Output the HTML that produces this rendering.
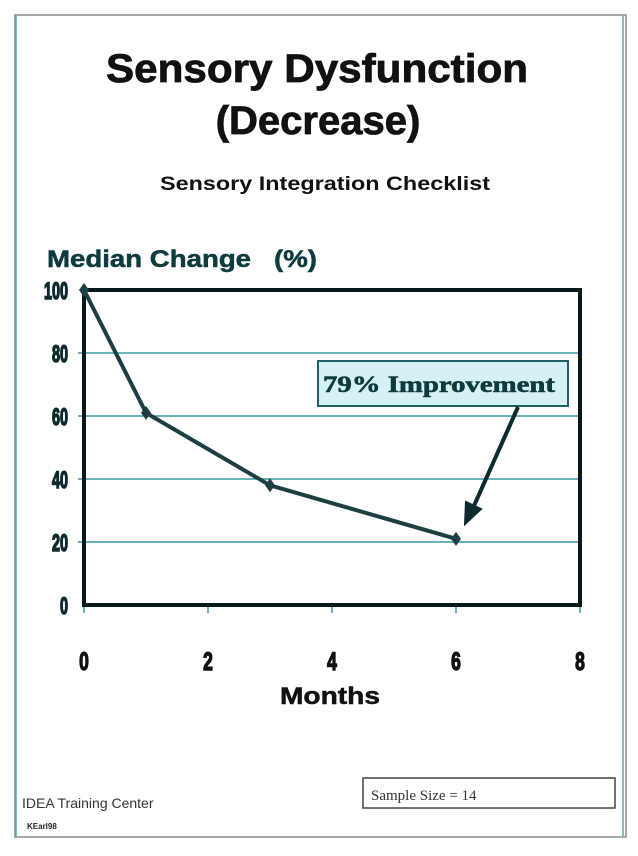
<!DOCTYPE html>
<html><head><meta charset="utf-8"><style>
body{margin:0;background:#fff;width:638px;height:851px;overflow:hidden;font-family:"Liberation Sans",sans-serif}
</style></head><body>
<svg width="638" height="851" viewBox="0 0 638 851" xmlns="http://www.w3.org/2000/svg">
<rect x="15" y="15" width="611" height="822" fill="#fff" stroke="#8a8a8a" stroke-width="1.5"/>
<line x1="16" y1="16" x2="16" y2="836" stroke="#5aa8b0" stroke-width="1.5"/>
<line x1="623" y1="16" x2="623" y2="836" stroke="#5aa8b0" stroke-width="1.5"/>
<text x="317" y="82" text-anchor="middle" font-size="40" font-weight="bold" fill="#111" stroke="#111" stroke-width="0.8" textLength="422" lengthAdjust="spacingAndGlyphs">Sensory Dysfunction</text>
<text x="318" y="134" text-anchor="middle" font-size="40" font-weight="bold" fill="#111" stroke="#111" stroke-width="0.8">(Decrease)</text>
<text x="325" y="190" text-anchor="middle" font-size="19" font-weight="bold" fill="#111" textLength="330" lengthAdjust="spacingAndGlyphs">Sensory Integration Checklist</text>
<text x="47" y="267" font-size="24" font-weight="bold" fill="#0d3b3e" stroke="#0d3b3e" stroke-width="0.5" textLength="270" lengthAdjust="spacingAndGlyphs" xml:space="preserve">Median Change   (%)</text>
<g id="grid"></g>
<g id="axes"></g>
<g id="series"></g>
<rect x="318" y="361" width="250" height="45" fill="#d6f1f3" stroke="#1f5f66" stroke-width="2"/>
<text x="439" y="392" text-anchor="middle" font-family="Liberation Serif, serif" font-size="23" font-weight="bold" fill="#0d3b3e" stroke="#0d3b3e" stroke-width="0.6" textLength="232" lengthAdjust="spacingAndGlyphs">79% Improvement</text>
<line x1="518" y1="407" x2="473" y2="508" stroke="#0d2a2e" stroke-width="4"/>
<polygon points="465,524 466,502 481,509" fill="#0d2a2e" stroke="#0d2a2e" stroke-width="2"/>
<text x="330" y="704" text-anchor="middle" font-size="24" font-weight="bold" fill="#111" stroke="#111" stroke-width="0.5" textLength="100" lengthAdjust="spacingAndGlyphs">Months</text>
<text x="22" y="808" font-size="14" fill="#333">IDEA Training Center</text>
<text x="27" y="829" font-size="8" font-weight="bold" fill="#222">KEarl98</text>
<rect x="363" y="778" width="252" height="30" fill="#fff" stroke="#444" stroke-width="1.5"/>
<text x="371" y="800" font-family="Liberation Serif, serif" font-size="15" fill="#333">Sample Size = 14</text>
</svg>
<script>
const months = [0, 1, 3, 6];
const medianChange = [100, 61, 38, 21];
const yTicks = [0, 20, 40, 60, 80, 100];
const xTicks = [0, 2, 4, 6, 8];
const NS = "http://www.w3.org/2000/svg";
const L = 84, R = 580, T = 290, B = 605;
const xs = v => L + (v - 0) / 8 * (R - L);
const ys = v => B - v / 100 * (B - T);
function mk(tag, attrs, parent, text) {
  const e = document.createElementNS(NS, tag);
  for (const k in attrs) e.setAttribute(k, attrs[k]);
  if (text !== undefined) e.textContent = text;
  document.getElementById(parent).appendChild(e);
  return e;
}
yTicks.forEach(t => {
  if (t > 0 && t < 100) {
    const g = mk("line", {x1: L - 6, x2: R, y1: ys(t), y2: ys(t), stroke: "#3a9aa3", "stroke-width": 1.5}, "grid");
    
    
  }
  const lb = mk("text", {x: 0, y: 0, "text-anchor": "end", "font-size": 24, "font-weight": "bold", fill: "#0d2a2e", stroke: "#0d2a2e", "stroke-width": 1.6, transform: `translate(68 ${ys(t) + 9}) scale(0.6 1)`}, "axes", String(t));
  
  
});
xTicks.forEach(t => {
  const tk = mk("line", {x1: xs(t), x2: xs(t), y1: B, y2: B + 8, stroke: "#3a9aa3", "stroke-width": 1.5}, "axes");
  
  
  const lb = mk("text", {x: 0, y: 0, "text-anchor": "middle", "font-size": 25, "font-weight": "bold", fill: "#111", stroke: "#111", "stroke-width": 1.4, transform: `translate(${xs(t)} 670) scale(0.7 1)`}, "axes", String(t));
  
  
});
const frame = mk("rect", {x: L, y: T, width: R - L, height: B - T, fill: "none", stroke: "#061a1c", "stroke-width": 4}, "axes");


const line = mk("polyline", {points: months.map((m, i) => xs(m) + "," + ys(medianChange[i])).join(" "), fill: "none", stroke: "#1d3f44", "stroke-width": 4, "stroke-linejoin": "round"}, "series");


months.forEach((m, i) => {
  const x = xs(m), y = ys(medianChange[i]);
  const p = mk("polygon", {points: `${x},${y - 7} ${x + 5},${y} ${x},${y + 7} ${x - 5},${y}`, fill: "#1d3f44"}, "series");
  
  
});
</script>
</body></html>
